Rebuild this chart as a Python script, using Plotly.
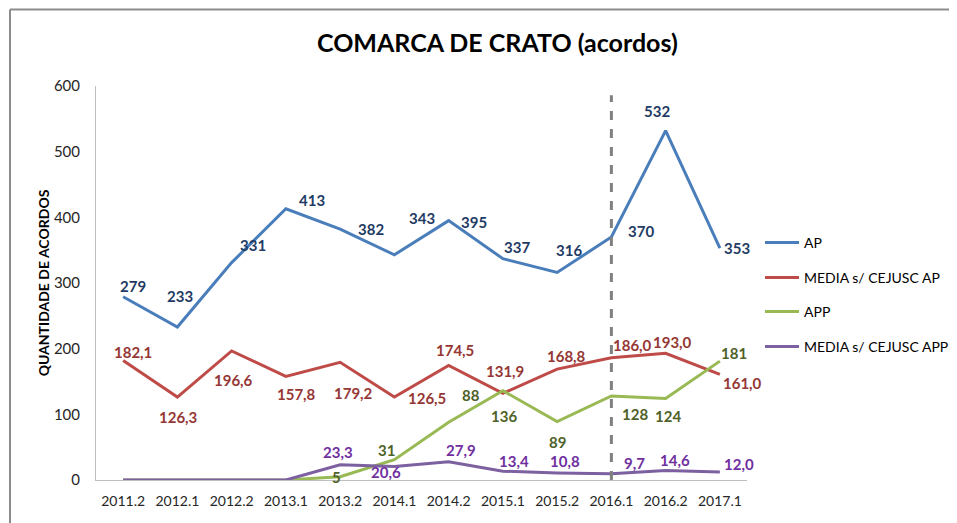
import plotly.graph_objects as go

categories = ["2011.2", "2012.1", "2012.2", "2013.1", "2013.2", "2014.1", "2014.2",
              "2015.1", "2015.2", "2016.1", "2016.2", "2017.1"]
ap = [279, 233, 331, 413, 382, 343, 395, 337, 316, 370, 532, 353]
media_ap = [182.1, 126.3, 196.6, 157.8, 179.2, 126.5, 174.5, 131.9, 168.8, 186.0, 193.0, 161.0]
app = [0, 0, 0, 0, 5, 31, 88, 136, 89, 128, 124, 181]
media_app = [0, 0, 0, 0, 23.3, 20.6, 27.9, 13.4, 10.8, 9.7, 14.6, 12.0]
marker_category = "2016.1"

# label text (Brazilian decimal comma); None = no label
ap_text = [str(v) for v in ap]
media_ap_text = [f"{v:.1f}".replace(".", ",") for v in media_ap]
app_text = [None, None, None, None] + [str(v) for v in app[4:]]
media_app_text = [None, None, None, None] + [f"{v:.1f}".replace(".", ",") for v in media_app[4:]]

# label offsets in pixels (dx right, dy down) -- styling only
ap_off = [(10, -11), (3, -31), (21, -18), (26, -9), (31, 0), (28, -37), (25, 1),
          (14, -12), (12, -22), (30, -6), (-9, -20), (17, 0)]
media_ap_off = [(10, -8), (1, 20), (2, 29), (11, 18), (13, 31), (33, 1), (6, -15),
                (2, -22), (9, -13), (21, -13), (7, -11), (23, 9)]
app_off = [None] * 4 + [(-4, 0), (-8, -10), (22, -27), (1, 25), (0, 20), (24, 18), (2, 17), (14, -8)]
media_app_off = [None] * 4 + [(-2, -13), (-8, 6), (12, -12), (11, -10), (8, -12), (23, -11), (9, -10), (19, -8)]

series = [
    ("AP", ap, ap_text, ap_off, "#4A7EBB", "#1F3B64"),
    ("MEDIA s/ CEJUSC AP", media_ap, media_ap_text, media_ap_off, "#BE4B48", "#953735"),
    ("APP", app, app_text, app_off, "#98B954", "#4F6228"),
    ("MEDIA s/ CEJUSC APP", media_app, media_app_text, media_app_off, "#7D60A0", "#7030A0"),
]

FONT = "Lato"
# page has an 8px body margin: figure origin sits at page (8, 8)
W, H = 941, 515
L, T, B = 88, 78, 43
pw = 651
R = W - L - pw
ph = H - T - B
PX0, PY0 = 96, 480  # page pixel of plot-area left / bottom


def px_x(px):
    return (px - PX0) / pw


def px_y(py):
    return (PY0 - py) / ph


fig = go.Figure()
annotations = []
legend_names = ["legend", "legend2", "legend3", "legend4"]
for i, (name, vals, texts, offs, color, lcolor) in enumerate(series):
    fig.add_trace(go.Scatter(
        x=categories, y=vals, mode="lines", name=name,
        line=dict(color=color, width=3), legend=legend_names[i],
    ))
    for idx, (v, t, o) in enumerate(zip(vals, texts, offs)):
        if t is None:
            continue
        annotations.append(dict(
            x=idx, y=v, xref="x", yref="y", text=t, showarrow=False,
            xshift=o[0], yshift=-o[1],
            font=dict(family=FONT, size=15, color=lcolor, weight="bold"),
        ))

# title
annotations.append(dict(
    text="<b>COMARCA DE CRATO (acordos)</b>", x=px_x(497), y=px_y(42),
    xref="paper", yref="paper", xanchor="center", yanchor="middle",
    showarrow=False, font=dict(family=FONT, size=25, color="#000000"),
))

legend_y_px = [243, 278, 312, 347]
legend_common = dict(
    xanchor="left", yanchor="middle", bgcolor="rgba(0,0,0,0)",
    font=dict(family=FONT, size=14, color="#000000"), itemwidth=34,
)
layout_legends = {}
for name, py in zip(legend_names, legend_y_px):
    layout_legends[name] = dict(x=px_x(760), y=px_y(py), **legend_common)

mx = categories.index(marker_category)

fig.update_layout(
    width=W, height=H,
    margin=dict(l=L, r=R, t=T, b=B, autoexpand=False),
    paper_bgcolor="white", plot_bgcolor="white",
    showlegend=True,
    annotations=annotations,
    **layout_legends,
    xaxis=dict(
        type="category", range=[-0.5, len(categories) - 0.5], autorange=False,
        showgrid=False, showline=True, linecolor="#BFBFBF", linewidth=1,
        ticks="", tickfont=dict(family=FONT, size=14, color="#262626"),
        ticklabelstandoff=8, zeroline=False, automargin=False,
    ),
    yaxis=dict(
        range=[0, 600], autorange=False, dtick=100, showgrid=False, showline=True, linecolor="#BFBFBF",
        linewidth=1, ticks="", tickfont=dict(family=FONT, size=15, color="#262626"),
        ticklabelstandoff=12, zeroline=False, automargin=False,
        title=dict(text="<b>QUANTIDADE DE ACORDOS</b>", font=dict(family=FONT, size=14, color="#000000"),
                   standoff=0),
    ),
    shapes=[
        dict(type="line", xref="x", yref="y", x0=mx, x1=mx, y0=0, y1=586,
             line=dict(color="#808080", width=3, dash="dash"), layer="above"),
        # chart frame (top and left edges)
        dict(type="line", xref="paper", yref="paper", x0=px_x(10), x1=px_x(960),
             y0=px_y(9.5), y1=px_y(9.5), line=dict(color="#8C8C8C", width=2)),
        dict(type="line", xref="paper", yref="paper", x0=px_x(10), x1=px_x(10),
             y0=px_y(9.5), y1=px_y(530), line=dict(color="#8C8C8C", width=2)),
    ],
)

fig.write_html("out.html")
